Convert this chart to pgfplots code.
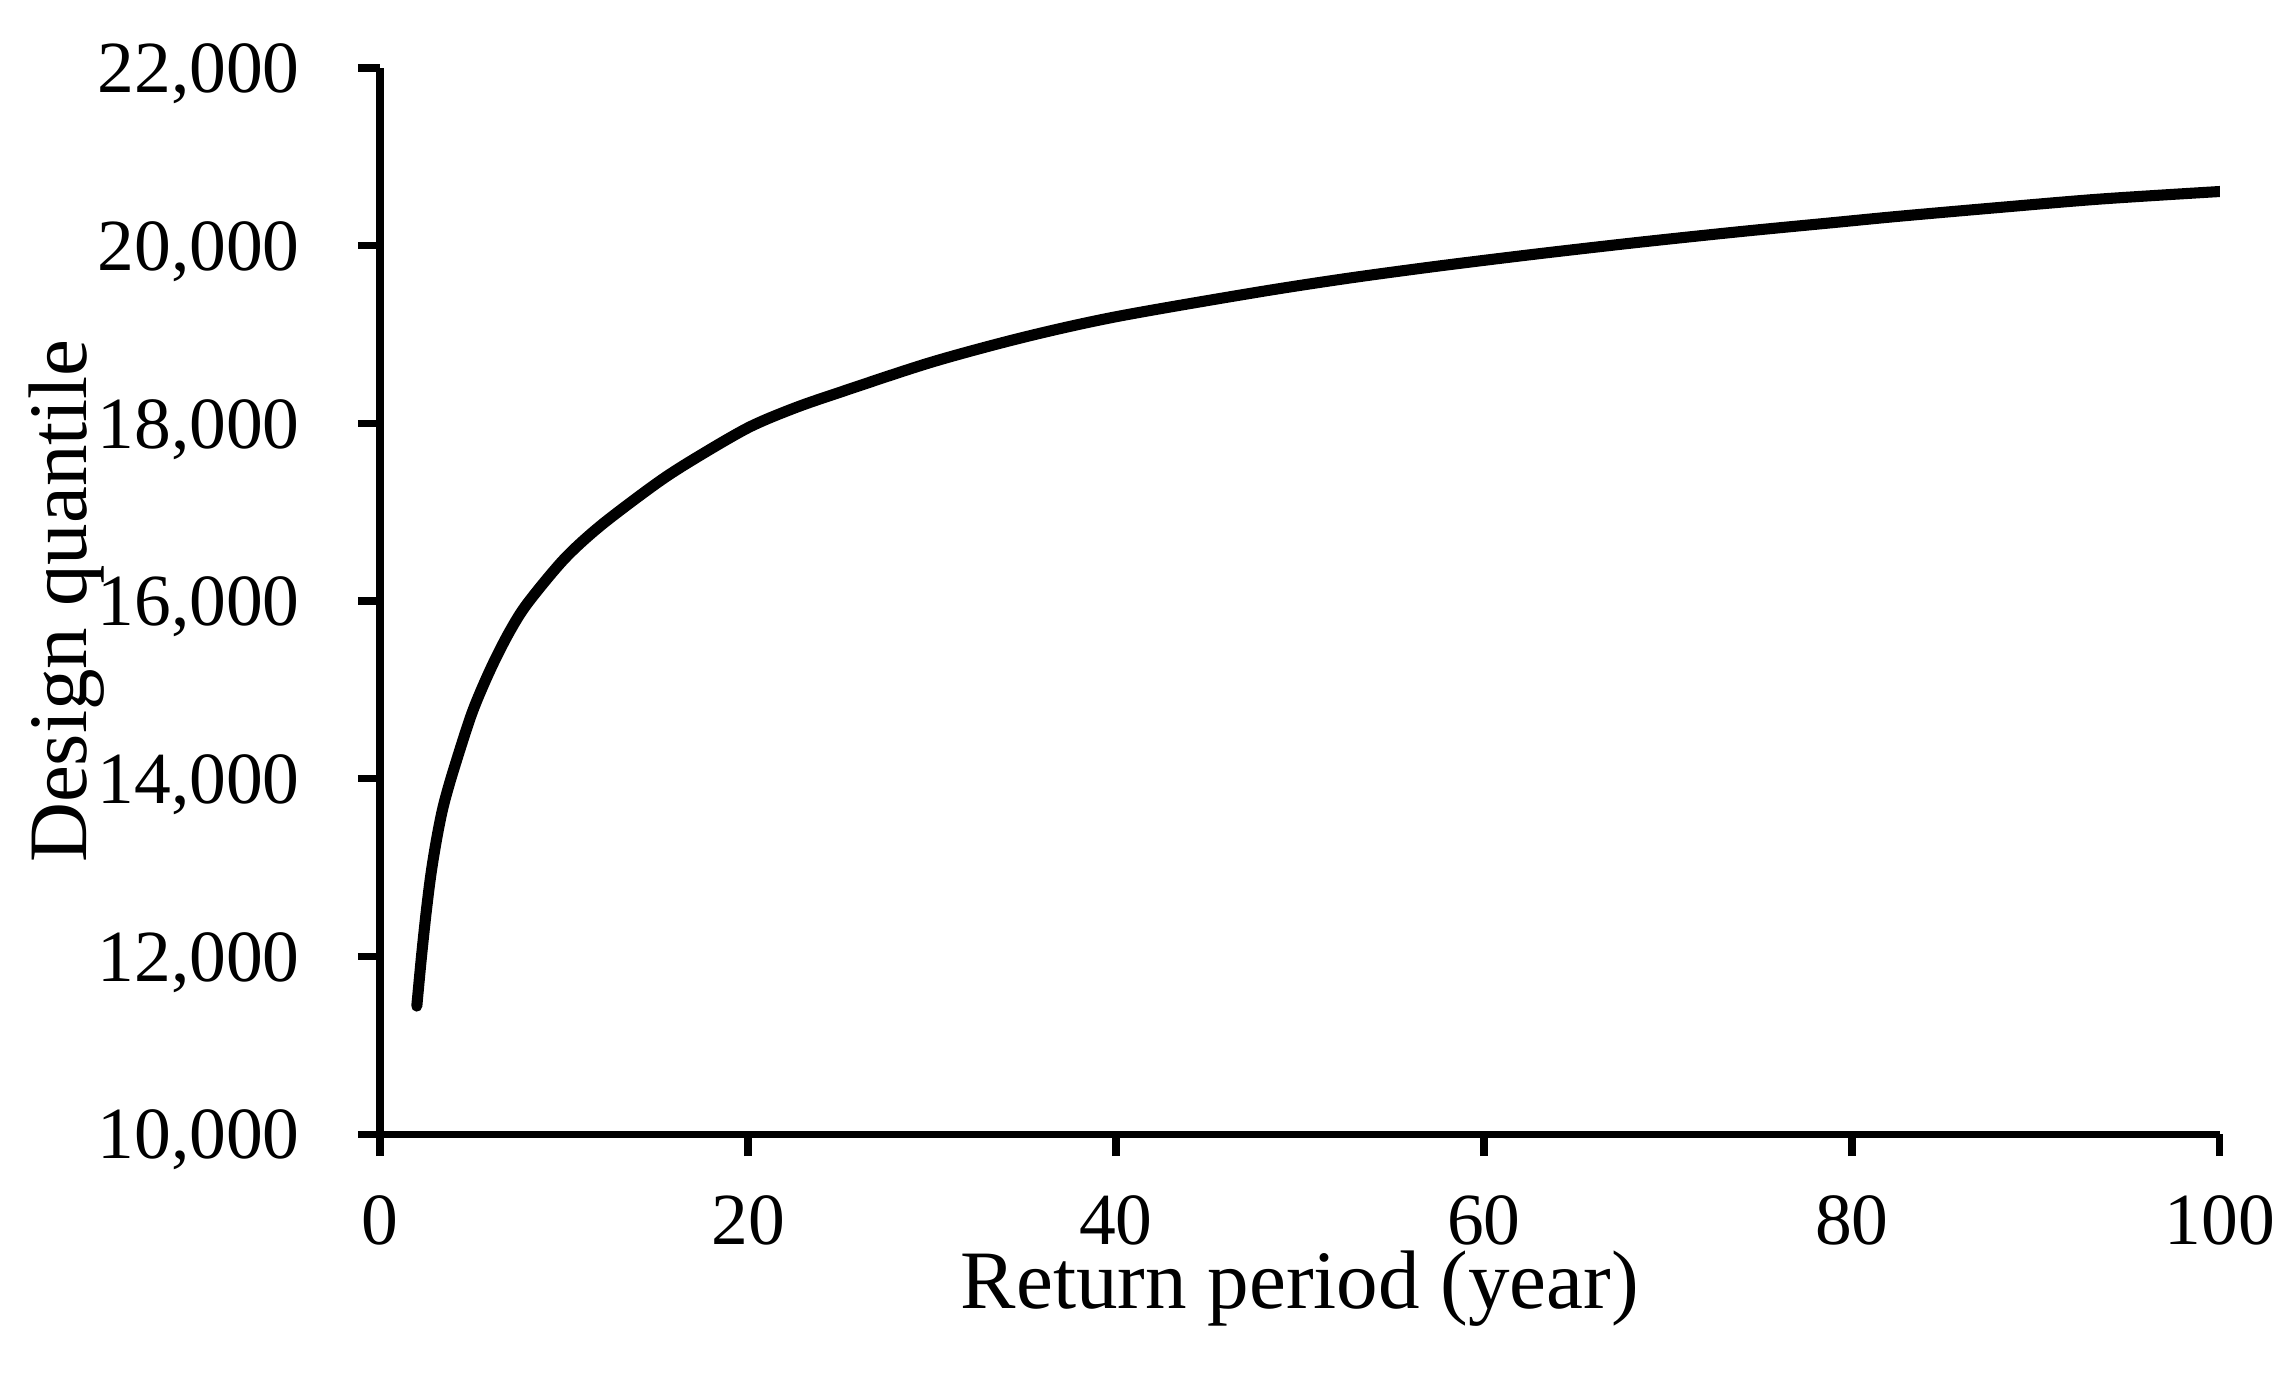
\documentclass[border=0pt]{standalone}
\usepackage{fontspec}
\setmainfont{Liberation Serif}
\usepackage{pgfplots}
\pgfplotsset{compat=1.18}

\begin{document}
\begin{tikzpicture}
\begin{axis}[
  scale only axis, width=12.845cm, height=7.442cm,
  xmin=0, xmax=100, ymin=10000, ymax=22000,
  xtick={0,20,...,100}, ytick={10000,12000,...,22000},
  axis x line*=bottom, axis y line*=left,
  tick align=outside, major tick length=0.154cm,
  axis line style={line width=1.4pt, black},
  every tick/.style={line width=1.4pt, black},
  scaled y ticks=false,
  /pgf/number format/assume math mode=true,
  /pgf/number format/1000 sep={,},
  tick label style={font=\fontsize{14.6}{17}\selectfont},
  yticklabel style={anchor=base east, inner sep=0pt, yshift=-4.9pt, xshift=-0.40cm},
  xticklabel style={anchor=north, inner sep=0pt, yshift=-0.27cm},
  label style={font=\fontsize{16.5}{19}\selectfont},
  xlabel={Return period (year)},
  ylabel={Design quantile},
  xlabel style={at={([yshift=-1.22cm]axis description cs:0.5,0)}, anchor=base, inner sep=0pt},
  ylabel style={at={([xshift=-2.052cm]axis description cs:0,0.5)}, anchor=base, inner sep=0pt},
]
\addplot[black, line width=2.2pt, line cap=round, line join=round, smooth] table {
T     Q
2     11440
2.25  11990
2.5   12480
2.75  12900
3     13230
3.25  13510
3.5   13740
4     14100
5     14740
6     15230
7     15640
8     15970
10    16470
12    16850
15    17320
17    17590
20    17950
22.5  18170
25    18350
30    18690
35    18970
40    19200
47.5  19470
52.5  19630
57.5  19770
63    19910
68.5  20040
74    20160
79    20260
82.5  20330
88    20430
93.5  20525
100   20610
};
\end{axis}
\pgfresetboundingbox
\useasboundingbox ([xshift=-2.653cm, yshift=-1.703cm]current axis.south west) rectangle ([xshift=0.503cm, yshift=0.475cm]current axis.north east);
\end{tikzpicture}
\end{document}
